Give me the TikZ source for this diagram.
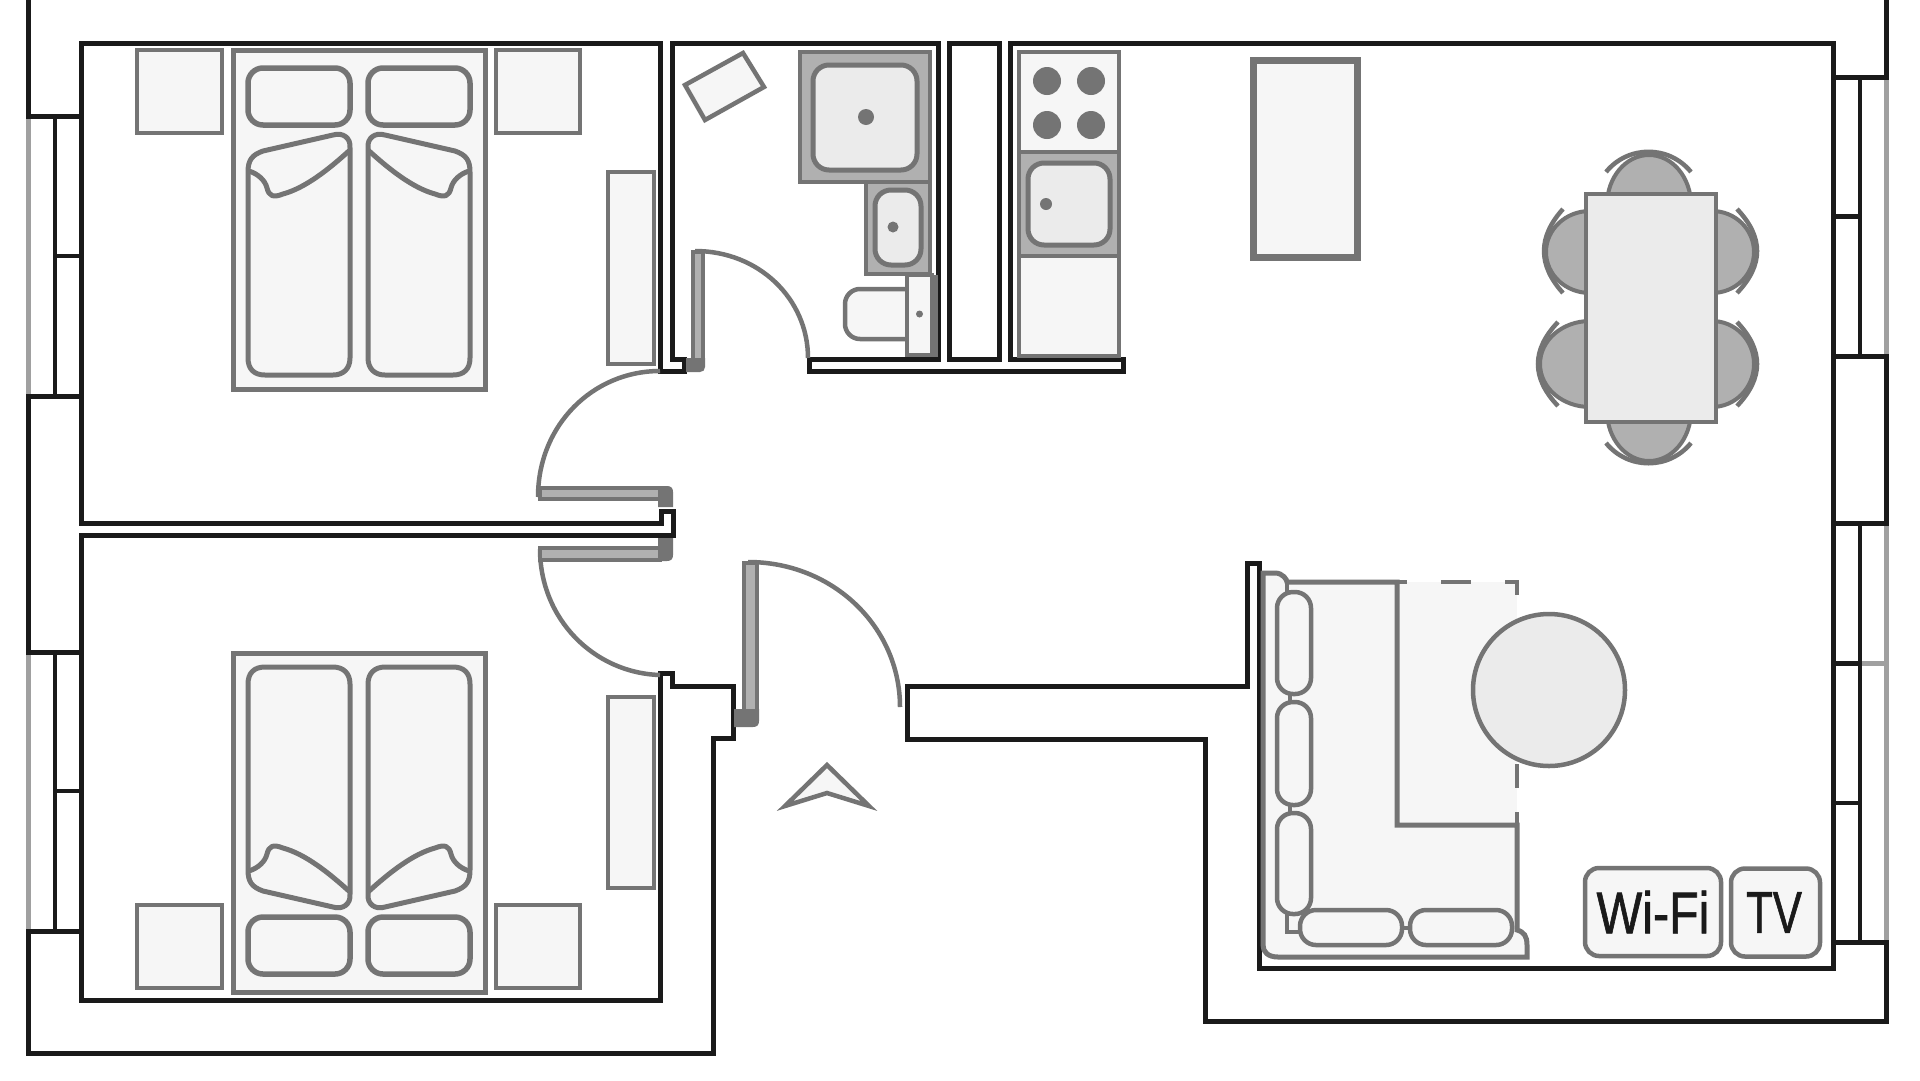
\documentclass[tikz,border=0pt]{standalone}
\usepackage{fontspec}
\setmainfont{Liberation Sans}
\newfontfamily\labelfont[FakeBold=1.2]{Liberation Sans}
\definecolor{wallc}{HTML}{1A1A1A}
\definecolor{furn}{HTML}{747474}
\definecolor{winc}{HTML}{A0A0A0}
\definecolor{lite}{HTML}{F6F6F6}
\definecolor{mid}{HTML}{EBEBEB}
\definecolor{dark}{HTML}{B0B0B0}
\tikzset{
  wall/.style={draw=wallc,line width=5pt,miter limit=10},
  thinwall/.style={draw=wallc,line width=4pt},
  glass/.style={draw=winc,line width=5pt},
  item/.style={draw=furn,fill=lite,line width=4.5pt},
  seat/.style={draw=furn,fill=dark,line width=4pt},
  backrest/.style={draw=furn,line width=4.5pt},
  leaf/.style={draw=furn,fill=dark,line width=4.5pt},
  hinge/.style={fill=furn},
  swing/.style={draw=furn,line width=4.5pt},
  cushion/.style={draw=furn,fill=lite,line width=4.5pt,rounded corners=16pt},
  pillow/.style={draw=furn,fill=lite,line width=5.5pt,rounded corners=15pt},
  basin/.style={draw=furn,fill=mid,line width=5pt,rounded corners=16pt},
  tray/.style={draw=furn,fill=dark,line width=4pt},
  plug/.style={fill=furn},
  infobox/.style={draw=furn,fill=lite,line width=4.5pt,rounded corners=14pt,inner sep=0pt,text=wallc},
  dash piece/.style={draw=furn,line width=4.5pt}
}
\newcommand{\bedhalf}{%
  \draw[pillow] (248,68) rectangle (350,125);
  \draw[draw=furn,fill=lite,line width=5pt,line join=round]
    (248,172) .. controls (248,160) and (252,155) .. (263,151)
    -- (333,135) .. controls (343,132) and (351,138) .. (350,148)
    -- (350,358) .. controls (350,369) and (343,375) .. (333,375)
    -- (265,375) .. controls (254,375) and (248,369) .. (248,358) -- cycle;
  \draw[draw=furn,line width=5pt,line join=round]
    (350,150) .. controls (328,170) and (305,188) .. (283,194)
    .. controls (273,198) and (269,196) .. (267,188)
    .. controls (265,180) and (258,174) .. (249,171);
}
\newcommand{\bedfull}{%
  \draw[item,line width=5pt] (233,50) rectangle (485,389);
  \bedhalf
  \begin{scope}[shift={(718,0)},xscale=-1]\bedhalf\end{scope}
}
\begin{document}
\begin{tikzpicture}[x=1pt,y=-1pt]
\useasboundingbox (0,0) rectangle (1920,1080);
\fill[white] (0,0) rectangle (1920,1080);
% windows glass
\draw[glass] (28,116) -- (28,396);
\draw[glass] (28,652) -- (28,931);
\draw[glass] (1886,77) -- (1886,356);
\draw[glass] (1886,523) -- (1886,942);
\draw[glass] (1860,663) -- (1886,663);
% window frames
\draw[thinwall] (55,116) -- (55,396);
\draw[thinwall] (55,652) -- (55,931);
\draw[thinwall] (55,256) -- (81,256);
\draw[thinwall] (55,791) -- (81,791);
\draw[thinwall] (1860,77) -- (1860,356);
\draw[thinwall] (1860,523) -- (1860,942);
\draw[wall] (1833,216) -- (1860,216);
\draw[wall] (1833,663) -- (1860,663);
\draw[thinwall] (1833,803) -- (1860,803);
% walls
\draw[wall] (28,0) -- (28,116) -- (81,116);
\draw[wall] (81,396) -- (28,396) -- (28,652) -- (81,652);
\draw[wall] (81,931) -- (28,931) -- (28,1053) -- (713,1053) -- (713,738) -- (733,738) -- (733,686) -- (672,686) -- (672,673) -- (660,673) -- (660,1000) -- (81,1000) -- (81,535) -- (673,535) -- (673,511) -- (661,511) -- (661,523) -- (81,523) -- (81,43) -- (660,43) -- (660,371) -- (684,371) -- (684,359) -- (672,359) -- (672,43) -- (938,43) -- (938,359) -- (809,359) -- (809,371) -- (1123,371) -- (1123,359) -- (1010,359) -- (1010,43) -- (1833,43) -- (1833,968) -- (1259,968) -- (1259,563) -- (1247,563) -- (1247,686) -- (907,686) -- (907,739) -- (1205,739) -- (1205,1021) -- (1886,1021) -- (1886,942) -- (1833,942);
\draw[wall] (949,43) rectangle (999,359);
\draw[wall] (1886,0) -- (1886,77) -- (1833,77);
\draw[wall] (1833,356) -- (1886,356) -- (1886,523) -- (1833,523);
% beds
\bedfull
\begin{scope}[shift={(0,1042)},yscale=-1]\bedfull\end{scope}
\draw[item] (137,50) rectangle (222,133);
\draw[item] (496,50) rectangle (580,133);
\draw[item] (137,905) rectangle (222,988);
\draw[item] (496,905) rectangle (580,988);
\draw[item] (608,172) rectangle (654,364);
\draw[item] (608,697) rectangle (654,888);
% doors
\draw[swing] (538,497) .. controls (538,425) and (593,371) .. (660,371);
\draw[leaf] (540,488) rectangle (660,499);
\fill[hinge] (658,486) -- (667,486) .. controls (671,486) and (673,488) .. (673,492) -- (673,507) -- (658,507) -- cycle;
\draw[swing] (540,549) .. controls (540,619) and (594,673) .. (660,675);
\draw[leaf] (540,548) rectangle (660,560);
\fill[hinge] (658,538) -- (673,538) -- (673,555) .. controls (673,559) and (671,561) .. (667,561) -- (658,561) -- cycle;
\draw[swing] (748,562) .. controls (833,562) and (900,627) .. (900,707);
\draw[leaf] (744,563) rectangle (757,712);
\fill[hinge] (734,709) -- (759,709) -- (759,721) .. controls (759,725) and (757,727) .. (753,727) -- (734,727) -- cycle;
\draw[swing] (695,251) .. controls (759,251) and (808,299) .. (808,358);
\draw[leaf,line width=4pt] (693,252) rectangle (703,360);
\fill[hinge] (686,358) -- (705,358) -- (705,367) .. controls (705,370) and (703,372) .. (700,372) -- (686,372) -- cycle;
% bathroom
\draw[item] (685,85) -- (743,53) -- (764,87) -- (705,120) -- cycle;
\draw[tray] (800,52) rectangle (930,182);
\draw[basin] (813,65) rectangle (917,170);
\fill[plug] (866,117) circle[radius=8pt];
\draw[tray] (866,182) rectangle (930,274);
\draw[basin] (875,190) rectangle (921,265);
\fill[plug] (893,227) circle[radius=5.5pt];
\draw[item,rounded corners=15pt] (907,289) -- (845,289) -- (845,339) -- (907,339);
\fill[furn] (932,275) rectangle (938,357);
\draw[item] (907,275) rectangle (932,355);
\fill[plug] (919.5,314) circle[radius=3.5pt];
% kitchen
\draw[item] (1019,52) rectangle (1119,152);
\foreach \bx in {1047,1091}\foreach \by in {81,125}{\fill[plug] (\bx,\by) circle[radius=14pt];}
\draw[tray,line width=4.5pt] (1019,152) rectangle (1119,256);
\draw[basin] (1028,163) rectangle (1110,245);
\fill[plug] (1046,204) circle[radius=6pt];
\draw[item] (1019,256) rectangle (1119,356);
% sideboard
\draw[item,line width=7pt] (1253,60) rectangle (1357,257);
% dining
\draw[seat] (1649,205) ellipse[x radius=42pt,y radius=50pt];
\draw[seat] (1649,411) ellipse[x radius=42pt,y radius=50pt];
\draw[seat] (1590,252) ellipse[x radius=44pt,y radius=41pt];
\draw[seat] (1590,364) ellipse[x radius=50pt,y radius=43pt];
\draw[seat] (1712,252) ellipse[x radius=42pt,y radius=41pt];
\draw[seat] (1712,364) ellipse[x radius=42pt,y radius=43pt];
\draw[backrest] (1606,172) .. controls (1628,145) and (1669,145) .. (1691,172);
\draw[backrest] (1606,443) .. controls (1628,470) and (1669,470) .. (1691,443);
\draw[backrest] (1563,209) .. controls (1537.7,237) and (1537.7,265) .. (1563,293);
\draw[backrest] (1558,322) .. controls (1531.3,350) and (1531.3,378) .. (1558,406);
\draw[backrest] (1737,209) .. controls (1763.7,237) and (1763.7,265) .. (1737,293);
\draw[backrest] (1737,322) .. controls (1763.7,350) and (1763.7,378) .. (1737,406);
\draw[item,fill=mid] (1586,194) rectangle (1716,422);
% sofa and rug
\fill[lite] (1397,582) rectangle (1517,825);
\draw[draw=furn,fill=lite,line width=5pt] (1263,573) -- (1275,573) .. controls (1283,573) and (1287,580) .. (1287,582) -- (1397,582) -- (1397,825) -- (1517,825) -- (1517,930) .. controls (1524,932) and (1527,936) .. (1527,945) -- (1527,957) -- (1278,957) .. controls (1268,957) and (1263,952) .. (1263,945) -- cycle;
\draw[dash piece] (1397,582) -- (1407,582);
\draw[dash piece] (1441,582) -- (1471,582);
\draw[dash piece] (1505,582) -- (1517,582) -- (1517,595);
\draw[dash piece] (1517,764) -- (1517,788);
\draw[dash piece] (1517,812) -- (1517,825);
\draw[dash piece] (1287,582) -- (1287,592);
\draw[dash piece] (1290,694) -- (1290,702);
\draw[dash piece] (1290,805) -- (1290,813);
\draw[dash piece] (1287,914) -- (1287,932) -- (1300,932);
\draw[dash piece] (1402,928) -- (1410,928);
\draw[cushion] (1277,592) rectangle (1311,694);
\draw[cushion] (1277,702) rectangle (1311,805);
\draw[cushion] (1277,813) rectangle (1311,914);
\draw[cushion] (1300,910) rectangle (1402,945);
\draw[cushion] (1410,910) rectangle (1512,945);
\draw[item,fill=mid] (1549,690) circle[radius=76pt];
% labels
\node[infobox,minimum width=136pt,minimum height=88pt] (wifi) at (1653,912) {\labelfont\fontsize{59}{59}\selectfont\scalebox{.82}[1]{Wi-Fi}};
\node[infobox,minimum width=89pt,minimum height=88pt] (tv) at (1775.5,912.5) {\labelfont\fontsize{59}{59}\selectfont\hspace{-3pt}\scalebox{.74}[1]{TV}};
% entry arrow
\draw[draw=furn,fill=lite,line width=4.5pt,miter limit=10] (827,765) -- (785,806) -- (827,793) -- (869,806) -- cycle;
\end{tikzpicture}
\end{document}
